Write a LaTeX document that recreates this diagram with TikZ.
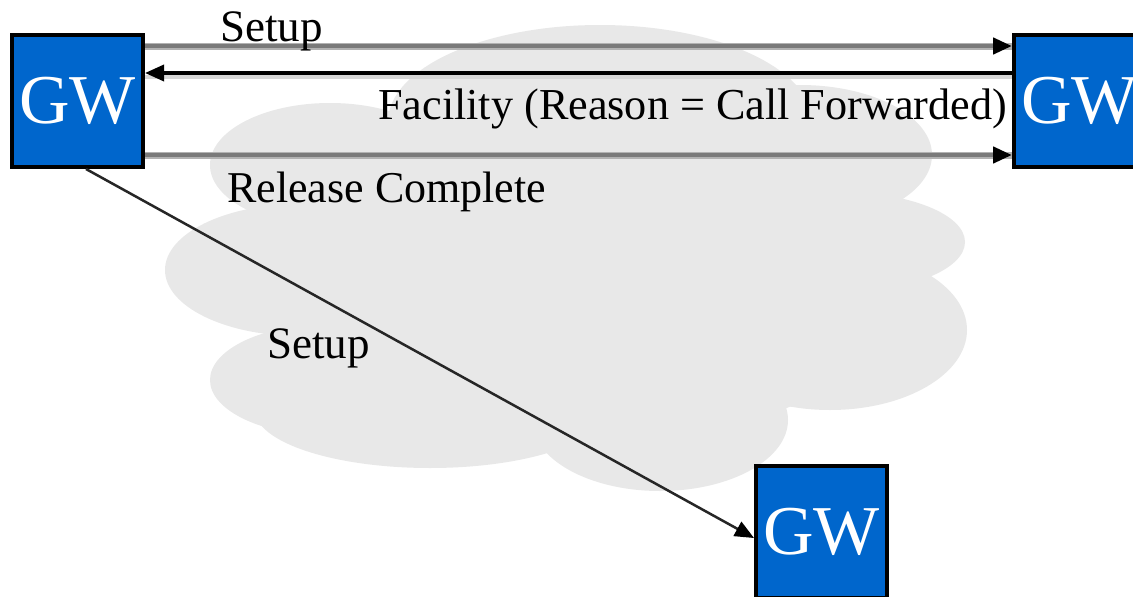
\documentclass[tikz,border=0pt]{standalone}
\usepackage{fontspec}
\setmainfont{Liberation Serif}
\usetikzlibrary{arrows.meta,calc}
\definecolor{gwblue}{RGB}{0,102,204}
\definecolor{cloudgray}{RGB}{232,232,232}
\definecolor{msggray}{RGB}{122,122,122}
\definecolor{halogray}{RGB}{178,178,178}
\definecolor{shadowgray}{RGB}{215,215,215}
\begin{document}
\begin{tikzpicture}[x=1pt,y=-1pt,
  gwbox/.style={draw=black,line width=4pt,fill=gwblue,minimum width=131pt,
    minimum height=132pt,inner sep=0pt,text=white,font=\fontsize{70}{80}\selectfont},
  lbl/.style={anchor=base west,inner sep=0pt,font=\fontsize{45}{54}\selectfont},
  tip/.style={-{Triangle[length=19pt,width=16pt,color=black]}},
  graymsg/.style={draw=msggray,line width=4.5pt,tip,
    preaction={draw=halogray,line width=7pt,-}},
  blackmsg/.style={draw=black,line width=3.5pt,tip,
    preaction={draw=shadowgray,line width=4pt,-,transform canvas={yshift=-4pt}}},
  diagmsg/.style={draw=black!85,line width=2.5pt,tip}]
\useasboundingbox (0,0) rectangle (1133,597);
\fill[white] (0,0) rectangle (1133,597);
% cloud
\begin{scope}[fill=cloudgray]
  \fill (590,270) ellipse [x radius=320, y radius=175];
  \fill (600,122) ellipse [x radius=212, y radius=97];
  \fill (330,165) ellipse [x radius=120, y radius=62];
  \fill (300,270) ellipse [x radius=135, y radius=66];
  \fill (330,380) ellipse [x radius=120, y radius=56];
  \fill (430,410) ellipse [x radius=175, y radius=58];
  \fill (660,420) ellipse [x radius=128, y radius=71];
  \fill (830,330) ellipse [x radius=137, y radius=80];
  \fill (840,242) ellipse [x radius=125, y radius=50];
  \fill (800,155) ellipse [x radius=132, y radius=70];
\end{scope}
% gateways
\node[gwbox] (gw1) at (77.5,101) {\raisebox{-5pt}{GW}};
\node[gwbox] (gw2) at (1079.5,101) {\raisebox{-5pt}{GW}};
\node[gwbox] (gw3) at (821.5,532) {\raisebox{-5pt}{GW}};
% messages
\draw[graymsg] ([yshift=55pt]gw1.east) -- ([yshift=55pt]gw2.west);
\draw[blackmsg] ([yshift=28pt]gw2.west) -- ([yshift=28pt]gw1.east);
\draw[graymsg] ([yshift=-54pt]gw1.east) -- ([yshift=-54pt]gw2.west);
\draw[diagmsg] ([xshift=8.5pt]gw1.south) -- ([yshift=-6pt]gw3.west);
% labels
\node[lbl] (l1) at (220,41) {Setup};
\node[lbl,font=\fontsize{44.2}{53}\selectfont] (l2) at (378,119) {Facility (Reason = Call Forwarded)};
\node[lbl,font=\fontsize{44}{53}\selectfont] (l3) at (227,202) {Release Complete};
\node[lbl] (l4) at (267,358) {Setup};
\end{tikzpicture}
\end{document}
